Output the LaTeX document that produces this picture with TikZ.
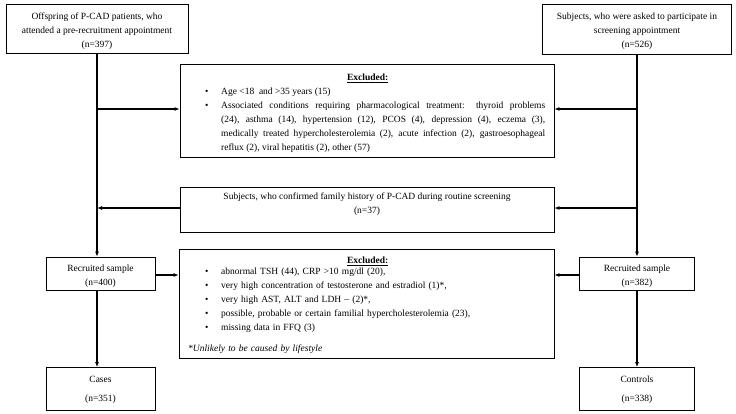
\documentclass[tikz,border=0pt]{standalone}
\usepackage{fontspec}
\setmainfont{Liberation Serif}
\usetikzlibrary{arrows.meta}
\newcommand{\fs}{\fontsize{9.5}{14}\selectfont}
\newcommand{\bitem}{\par\noindent\hangindent=31pt\hangafter=1\makebox[31pt][l]{\hspace{15pt}\textbullet}}
\begin{document}
\begin{tikzpicture}[x=1pt,y=-1pt,
  box/.style={draw, line width=0.7pt, inner sep=0pt},
  lbl/.style={inner sep=0pt, align=center, font=\fs},
  conn/.style={line width=1.3pt, -{Latex[length=5pt,width=4pt]}},
  body/.style={inner sep=0pt, font=\fs, anchor=north west}]
\useasboundingbox[fill=white] (0,0) rectangle (736,413);

% boxes
\node[box, minimum width=182pt, minimum height=49pt] (tl) at (97,28.5) {};
\node[lbl] (tlt) at (97,31)
  {Offspring of P-CAD patients, who\\attended a pre-recruitment appointment\\(n=397)};
\node[box, minimum width=189pt, minimum height=50pt] (tr) at (637,29) {};
\node[lbl] (trt) at (637,31)
  {Subjects, who were asked to participate in\\screening appointment\\(n=526)};

\node[box, minimum width=374pt, minimum height=93pt] (ex1) at (367,110.5) {};
\node[body, text width=355pt, align=justify] (ex1t) at (190,73.5)
  {{\centering\textbf{\underline{Excluded:}}\par}
   \bitem Age <18\ \ and >35 years (15)
   \bitem Associated conditions requiring pharmacological treatment: thyroid problems\linebreak
   (24), asthma (14), hypertension (12), PCOS (4), depression (4), eczema (3),\linebreak
   medically treated hypercholesterolemia (2), acute infection (2), gastroesophageal\linebreak
   reflux (2), viral hepatitis (2), other (57)\par};

\node[box, minimum width=374pt, minimum height=45pt] (fh) at (367,209.5) {};
\node[lbl, anchor=north] (fht) at (367,192.5)
  {Subjects, who confirmed family history of P-CAD during routine screening\\(n=37)};

\node[box, minimum width=375pt, minimum height=109pt] (ex2) at (366.5,303.5) {};
\node[body, text width=355pt, align=left] (ex2t) at (190,256.5)
  {{\centering\textbf{\underline{Excluded:}}\par}\vspace{-3pt}
   \bitem abnormal TSH (44), CRP >10 mg/dl (20),
   \bitem very high concentration of testosterone and estradiol (1)*,
   \bitem very high AST, ALT and LDH – (2)*,
   \bitem possible, probable or certain familial hypercholesterolemia (23),
   \bitem missing data in FFQ (3)\par\vspace{7pt}
   \noindent\hspace*{-2pt}\textit{*Unlikely to be caused by lifestyle}};

\node[box, minimum width=109pt, minimum height=33pt] (rl) at (100.5,273.5) {};
\node[lbl] (rlt) at (100.5,276) {Recruited sample\\(n=400)};
\node[box, minimum width=115pt, minimum height=33pt] (rr) at (637,273.5) {};
\node[lbl] (rrt) at (637,276) {Recruited sample\\(n=382)};
\node[box, minimum width=109pt, minimum height=43pt] (ca) at (100.5,389) {};
\node[lbl] (cat) at (100.5,389.5) {Cases\\[5pt](n=351)};
\node[box, minimum width=115pt, minimum height=43pt] (co) at (637,389) {};
\node[lbl] (cot) at (637,389.5) {Controls\\[5pt](n=338)};

% connectors
\coordinate (lx) at (97,0);
\draw[conn] (tl.south) -- (tl.south |- rl.north);
\draw[conn] (tr.south) -- (tr.south |- rr.north);
\draw[conn] (lx |- rl.south) -- (lx |- ca.north);
\draw[conn] (rr.south) -- (co.north);

\coordinate (l1) at (97,109);
\coordinate (r1) at (637,109);
\draw[conn] (l1) -- (l1 -| ex1.west);
\draw[conn] (r1) -- (r1 -| ex1.east);

\coordinate (l2) at (97,208);
\coordinate (r2) at (637,208);
\draw[conn] (l2 -| fh.west) -- (l2);
\draw[conn] (r2) -- (r2 -| fh.east);

\coordinate (l3) at (155,275);
\coordinate (r3) at (579.5,275);
\draw[conn] (l3) -- (l3 -| ex2.west);
\draw[conn] (r3) -- (r3 -| ex2.east);
\end{tikzpicture}
\end{document}
